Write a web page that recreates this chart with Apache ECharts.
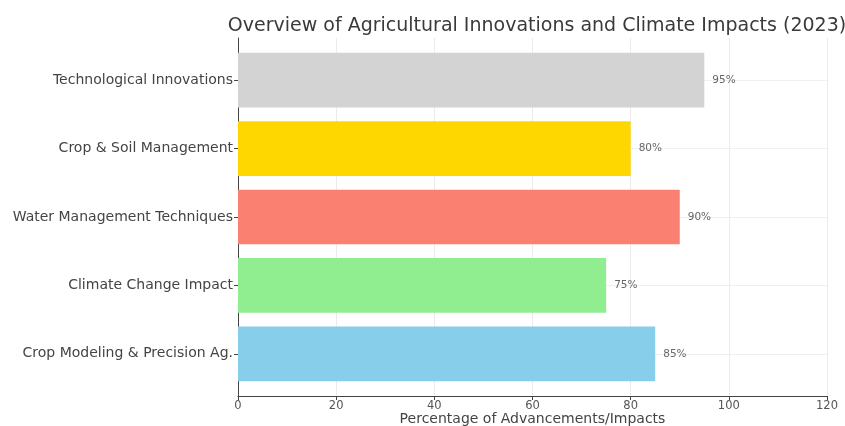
<!DOCTYPE html>
<html>
<head>
<meta charset="utf-8">
<script src="https://cdn.jsdelivr.net/npm/echarts@6/dist/echarts.min.js"></script>
<style>
  html, body { margin: 0; padding: 0; background: #fff; }
  #chart { width: 845px; height: 426px; }
</style>
</head>
<body>
<div id="chart"></div>
<script>
// Categories listed bottom to top, as they stack on the y axis
const categories = [
  'Crop Modeling & Precision Ag.',
  'Climate Change Impact',
  'Water Management Techniques',
  'Crop & Soil Management',
  'Technological Innovations'
];
const values = [85, 75, 90, 80, 95];
const barColors = ['#87ceeb', '#90ee90', '#fa8072', '#ffd700', '#d3d3d3'];
const xTicks = [0, 20, 40, 60, 80, 100, 120];

const FONT = 'DejaVu Sans';
const xMin = xTicks[0];
const xMax = xTicks[xTicks.length - 1];
const xStep = xTicks[1] - xTicks[0];

const chart = echarts.init(document.getElementById('chart'), null, { renderer: 'canvas' });

chart.setOption({
  animation: false,
  backgroundColor: '#ffffff',
  title: {
    text: 'Overview of Agricultural Innovations and Climate Impacts (2023)',
    left: 532,
    textAlign: 'center',
    top: 12,
    textStyle: { fontFamily: FONT, fontSize: 19, fontWeight: 'normal', color: '#3a3a3a' }
  },
  grid: [
    // outer frame: spines, x ticks and vertical gridlines
    { left: 238, right: 18, top: 38, bottom: 30, outerBoundsMode: 'none', containLabel: false },
    // inner band area holding the bars
    { left: 238, right: 18, top: 46, height: 342, outerBoundsMode: 'none', containLabel: false }
  ],
  xAxis: [
    {
      gridIndex: 0, type: 'value', min: xMin, max: xMax, interval: xStep,
      name: 'Percentage of Advancements/Impacts',
      nameLocation: 'middle', nameGap: 23.5, nameMoveOverlap: false,
      nameTextStyle: { fontFamily: FONT, fontSize: 14, color: '#444444', verticalAlign: 'middle' },
      axisLine: { show: true, lineStyle: { color: '#444444', width: 1 } },
      axisTick: { show: true, length: 4, lineStyle: { color: '#444444' } },
      axisLabel: { fontFamily: FONT, fontSize: 11.5, color: '#555555', margin: 4 },
      splitLine: { show: true, lineStyle: { color: '#ebebeb', width: 1 } }
    },
    {
      gridIndex: 1, type: 'value', min: xMin, max: xMax, interval: xStep,
      show: false, splitLine: { show: false }
    }
  ],
  yAxis: [
    {
      gridIndex: 0, type: 'value', min: 0, max: 1,
      axisLine: { show: true, lineStyle: { color: '#444444', width: 1 } },
      axisTick: { show: false }, axisLabel: { show: false }, splitLine: { show: false }
    },
    {
      gridIndex: 1, type: 'category', data: categories,
      axisLine: { show: false },
      axisTick: { show: true, alignWithLabel: true, length: 4, lineStyle: { color: '#444444' } },
      axisLabel: { fontFamily: FONT, fontSize: 14, color: '#444444', margin: 5 },
      splitLine: { show: true, alignWithLabel: true, lineStyle: { color: '#f0f0f0', width: 1 } }
    }
  ],
  series: [{
    type: 'bar',
    xAxisIndex: 1,
    yAxisIndex: 1,
    barWidth: '80%',
    data: values.map((v, i) => ({ value: v, itemStyle: { color: barColors[i] } })),
    label: {
      show: true,
      position: 'right',
      distance: 8,
      formatter: p => p.value + '%',
      fontFamily: FONT,
      fontSize: 10.5,
      color: '#666666'
    }
  }]
});
</script>
</body>
</html>
